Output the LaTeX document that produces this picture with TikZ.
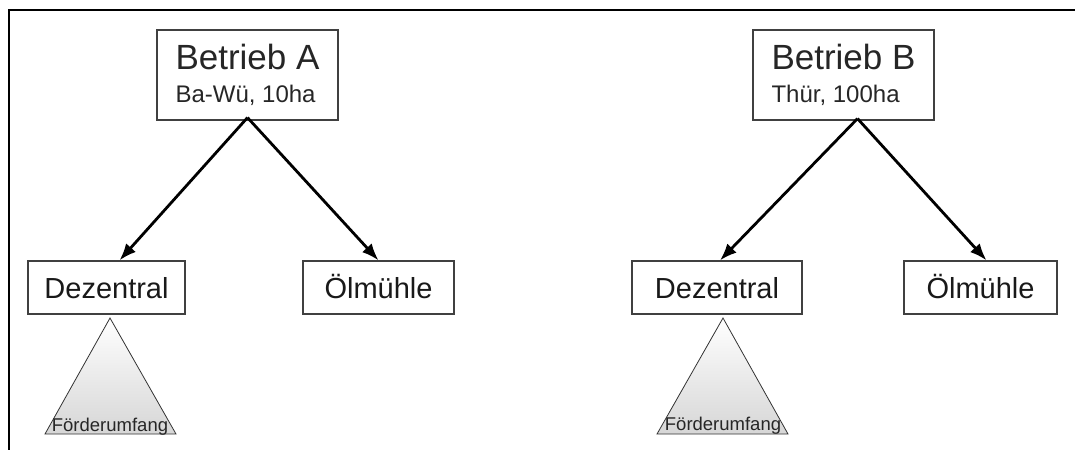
\documentclass[tikz,border=0pt]{standalone}
\usepackage{fontspec}
\setmainfont{Liberation Sans}
\usetikzlibrary{arrows.meta}
\tikzstyle{betrieb} = [draw=black!75, line width=1.2pt, rectangle, minimum width=181pt, minimum height=90pt, align=left, inner sep=0pt, font={\fontsize{24}{33}\selectfont}, text=black!85]
\tikzstyle{ziel} = [draw=black!75, line width=1.2pt, rectangle, minimum height=53pt, inner sep=0pt, font={\fontsize{29}{29}\selectfont}, text height=21pt, text depth=0pt, text=black!90]
\tikzstyle{pfeil} = [line width=2.8pt, -{Latex[length=17pt,width=13pt]}]
\tikzstyle{dreieck} = [draw=black!80, line width=0.8pt, top color=white, bottom color=black!16]
\tikzstyle{foerder} = [font={\fontsize{18.5}{18.5}\selectfont}, inner sep=0pt, anchor=base, text=black!85]

\begin{document}
\begin{tikzpicture}[x=1pt,y=-1pt]
    \useasboundingbox (0,0) rectangle (1075,450);
    \draw[line width=1.5pt] (1075,10) -- (9,10) -- (9,450);
    % Betrieb A
    \node[betrieb](A) at (247.5,75){\fontsize{35}{33}\selectfont Betrieb A\\Ba-Wü, 10ha};
    \node[ziel,minimum width=157pt](A1) at (106.5,287.5){Dezentral};
    \node[ziel,minimum width=151pt](A2) at (378.5,287.5){Ölmühle};
    \draw[dreieck] (110,318) -- (45,434) -- (176,434) -- cycle;
    \node[foerder](A3) at (110,431){Förderumfang};
    \draw[pfeil]([yshift=3pt]A.south)--([xshift=13pt]A1.north);
    \draw[pfeil]([yshift=3pt]A.south)--(A2.north);
    % Betrieb B
    \node[betrieb](B) at (843.5,75){\fontsize{35}{33}\selectfont Betrieb B\\Thür, 100ha};
    \node[ziel,minimum width=170pt](B1) at (717,287.5){Dezentral};
    \node[ziel,minimum width=153pt](B2) at (980.5,287.5){Ölmühle};
    \draw[dreieck] (723,318) -- (657,434) -- (788,434) -- cycle;
    \node[foerder](B3) at (723,430){Förderumfang};
    \draw[pfeil]([xshift=14pt,yshift=2pt]B.south)--([xshift=3pt]B1.north);
    \draw[pfeil]([xshift=14pt,yshift=2pt]B.south)--([xshift=6pt]B2.north);
\end{tikzpicture}
\end{document}
